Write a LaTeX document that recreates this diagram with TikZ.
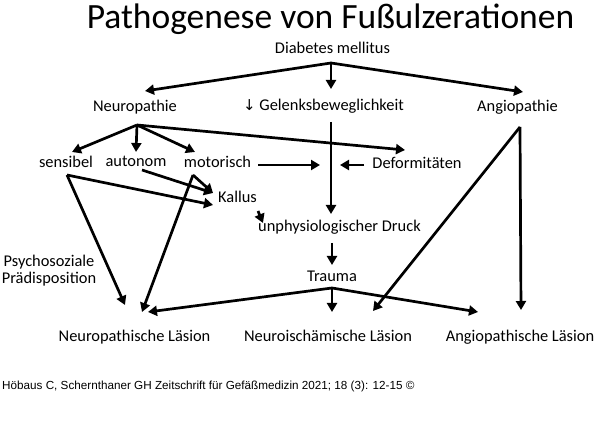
\documentclass[tikz,border=0pt]{standalone}
\usepackage{fontspec}
\setmainfont{Carlito}
\newfontfamily\arialfont{Liberation Sans}
\newfontfamily\dejavufont{DejaVu Sans}
\usetikzlibrary{arrows.meta}
\tikzset{
  lbl/.style={anchor=base, inner sep=0pt, font=\fontsize{16.4}{19}\selectfont},
  arr/.style={line width=2.7pt, -{Triangle[length=9pt,width=10pt]}},
  ln/.style={line width=2.7pt}
}
\begin{document}
\begin{tikzpicture}[x=1pt,y=-1pt]
\useasboundingbox (0,0) rectangle (600,435);
\fill[white] (0,0) rectangle (600,435);
% title
\node[anchor=base, inner sep=0pt, font=\fontsize{35.5}{40}\selectfont] (title) at (330.5,29) {Pathogenese von Fußulzerationen};
% texts
\node[lbl] (dm) at (332.5,54) {Diabetes mellitus};
\node[lbl] (np) at (135,112) {Neuropathie};
\node[lbl] (gb) at (323.5,111) {{\dejavufont\fontsize{15}{16}\selectfont ↓} Gelenksbeweglichkeit};
\node[lbl] (ap) at (517.5,112) {Angiopathie};
\node[lbl] (se) at (66,168) {sensibel};
\node[lbl] (au) at (136,167) {autonom};
\node[lbl] (mo) at (217.5,168) {motorisch};
\node[lbl] (de) at (417,169) {Deformitäten};
\node[lbl] (ka) at (237.5,203) {Kallus};
\node[lbl] (ud) at (339.5,232) {unphysiologischer Druck};
\node[lbl] (tr) at (332,282) {Trauma};
\node[lbl] (ps) at (49,267) {Psychosoziale};
\node[lbl] (ps2) at (49,284) {Prädisposition};
\node[lbl] (nl) at (134.5,342) {Neuropathische Läsion};
\node[lbl] (nil) at (328,342) {Neuroischämische Läsion};
\node[lbl] (al) at (520,342) {Angiopathische Läsion};
\node[anchor=base west, inner sep=0pt, font=\arialfont\fontsize{11.7}{13}\selectfont] (foot) at (2,390) {Höbaus C, Schernthaner GH Zeitschrift für Gefäßmedizin 2021; 18 (3): 12-15 ©};
% junction coordinates
\coordinate (dmS) at (331,63);
\coordinate (npS) at (137,125);
\coordinate (gbS) at (331,122);
\coordinate (apS) at (520,127);
\coordinate (seS) at (67,175);
\coordinate (auS) at (142,170);
\coordinate (moS) at (193,175);
\coordinate (trS) at (332,288);
% tips
\coordinate (npT) at (145,91);
\coordinate (gbT) at (331,89);
\coordinate (apT) at (523,92);
\coordinate (seT) at (72,152);
\coordinate (auT) at (136,152);
\coordinate (moT) at (195,152);
\coordinate (deT) at (405,150);
\coordinate (udT) at (331,214);
\coordinate (moR) at (258,165);
\coordinate (gbL) at (320,165);
\coordinate (deL) at (364,165);
\coordinate (gbR) at (340,165);
\coordinate (kaT1) at (213,193);
\coordinate (kaT2) at (213,205);
\coordinate (nlT1) at (125,305);
\coordinate (nlT2) at (142,312);
\coordinate (nlT3) at (148,312);
\coordinate (nilT1) at (332,312);
\coordinate (nilT2) at (373,311);
\coordinate (alT1) at (478,312);
\coordinate (alT2) at (521,310);
\coordinate (kaS) at (258,211);
\coordinate (udT2) at (263,223);
\coordinate (udS) at (332,243);
\coordinate (trT) at (332,265);
% connectors
\draw[arr] (dmS) -- (npT);
\draw[arr] (dmS) -- (gbT);
\draw[arr] (dmS) -- (apT);
\draw[arr] (npS) -- (seT);
\draw[arr] (npS) -- (auT);
\draw[arr] (npS) -- (moT);
\draw[arr] (npS) -- (deT);
\draw[arr] (gbS) -- (udT);
\draw[arr] (moR) -- (gbL);
\draw[arr] (deL) -- (gbR);
\draw[arr] (seS) -- (kaT2);
\draw[arr] (seS) -- (nlT1);
\draw[arr] (auS) -- (kaT1);
\draw[arr] (moS) -- (kaT1);
\draw[arr] (moS) -- (nlT2);
\draw[arr] (kaS) -- (udT2);
\draw[arr] (udS) -- (trT);
\draw[arr] (trS) -- (nlT3);
\draw[arr] (trS) -- (nilT1);
\draw[arr] (trS) -- (alT1);
\draw[arr] (apS) -- (nilT2);
\draw[arr] (apS) -- (alT2);
\end{tikzpicture}
\end{document}
